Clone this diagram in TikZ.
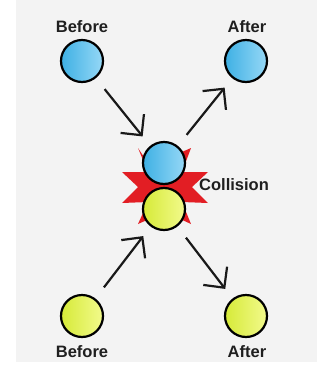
\documentclass[tikz,border=0pt]{standalone}
\usepackage{fontspec}
\setmainfont{Liberation Sans}
\usetikzlibrary{arrows.meta}
\definecolor{bgc}{RGB}{243,243,243}
\definecolor{bluel}{RGB}{62,176,228}
\definecolor{bluer}{RGB}{150,216,246}
\definecolor{yell}{RGB}{214,234,56}
\definecolor{yelr}{RGB}{242,250,140}
\definecolor{burst}{RGB}{226,30,36}
\tikzset{
  ball/.style={circle, draw=black, line width=2.2pt, minimum size=42pt, inner sep=0pt},
  blueball/.style={ball, left color=bluel, right color=bluer},
  yelball/.style={ball, left color=yell, right color=yelr},
  lbl/.style={font=\fontsize{16.5}{18}\selectfont\bfseries, text=black!88, inner sep=0pt},
  mover/.style={-{Straight Barb[length=15pt,width=30pt,line width=2.2pt]}, line width=2.2pt, black!90, shorten <=14pt, shorten >=12pt}
}
\begin{document}
\begin{tikzpicture}[x=1pt,y=-1pt]
\useasboundingbox (0,0) rectangle (321,373);
\fill[bgc] (16,0) rectangle (317,362);
% starburst
\fill[burst] (138,148) -- (150,166) -- (191,148) -- (182,172) -- (208,172) -- (192,187) -- (208,203) -- (182,202) -- (191,224) -- (165,212) -- (138,224) -- (148,202) -- (122,203) -- (138,187) -- (122,172) -- (148,172) -- cycle;
% balls
\node[blueball] (tl) at (82,61) {};
\node[blueball] (tr) at (246,61) {};
\node[yelball] (bl) at (82,316) {};
\node[yelball] (br) at (246,316) {};
\node[yelball] (cy) at (164,209) {};
\node[blueball] (cb) at (164,163) {};
% labels
\node[lbl] (lbtl) at (82,27) {Before};
\node[lbl] (lbtr) at (247,27) {After};
\node[lbl] (lbbl) at (82,352) {Before};
\node[lbl] (lbbr) at (247,352) {After};
\node[lbl, anchor=west] (lcol) at (199,185) {Collision};
% arrows
\draw[mover] (tl) -- (cb);
\draw[mover] (cb) -- (tr);
\draw[mover] (bl) -- (cy);
\draw[mover] (cy) -- (br);
\end{tikzpicture}
\end{document}
